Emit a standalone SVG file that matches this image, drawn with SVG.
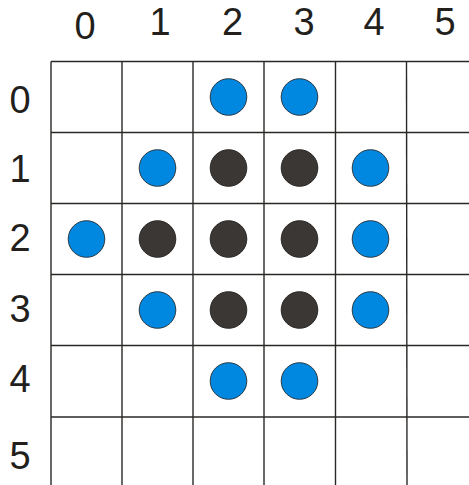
<svg xmlns="http://www.w3.org/2000/svg" width="469" height="485" viewBox="0 0 469 485">
<style>
.grid line{stroke:#2a2826;stroke-width:1.4;fill:none}
.lbl{font-family:"Liberation Sans",Arial,sans-serif;font-size:38px;fill:#231f1c;text-anchor:middle}
.blue{fill:#0088e0;stroke:#2b3a45;stroke-width:1}
.dark{fill:#3b3734;stroke:#2a2826;stroke-width:1}
</style>
<rect width="469" height="485" fill="#ffffff"/>
<g id="grid" class="grid">
<line x1="51" y1="61.5" x2="469" y2="61.5"/>
<line x1="51" y1="132.5" x2="469" y2="132.5"/>
<line x1="51" y1="203.5" x2="469" y2="203.5"/>
<line x1="51" y1="274.5" x2="469" y2="274.5"/>
<line x1="51" y1="345.5" x2="469" y2="345.5"/>
<line x1="51" y1="417" x2="469" y2="417"/>
<line x1="51" y1="61.5" x2="51" y2="485"/>
<line x1="122" y1="61.5" x2="122" y2="485"/>
<line x1="193" y1="61.5" x2="193" y2="485"/>
<line x1="264" y1="61.5" x2="264" y2="485"/>
<line x1="335.5" y1="61.5" x2="335.5" y2="485"/>
<line x1="406.5" y1="61.5" x2="407" y2="485"/>
</g>
<g id="col-labels">
<text class="lbl" x="85" y="38.5">0</text>
<text class="lbl" x="160" y="35">1</text>
<text class="lbl" x="232.5" y="35">2</text>
<text class="lbl" x="304" y="35">3</text>
<text class="lbl" x="374" y="35">4</text>
<text class="lbl" x="445" y="35">5</text>
</g>
<g id="row-labels">
<text class="lbl" x="20" y="112.5">0</text>
<text class="lbl" x="20" y="181.5">1</text>
<text class="lbl" x="20" y="250.5">2</text>
<text class="lbl" x="20" y="321.5">3</text>
<text class="lbl" x="20" y="391.5">4</text>
<text class="lbl" x="20" y="468.5">5</text>
</g>
<g id="b-0-2"><circle class="blue" cx="228.5" cy="97" r="18.3"/></g>
<g id="b-0-3"><circle class="blue" cx="299.5" cy="97" r="18.3"/></g>
<g id="b-1-1"><circle class="blue" cx="157.5" cy="168" r="18.3"/></g>
<g id="d-1-2"><circle class="dark" cx="228.5" cy="168" r="18.3"/></g>
<g id="d-1-3"><circle class="dark" cx="299.5" cy="168" r="18.3"/></g>
<g id="b-1-4"><circle class="blue" cx="370.5" cy="168" r="18.3"/></g>
<g id="b-2-0"><circle class="blue" cx="86.5" cy="239" r="18.3"/></g>
<g id="d-2-1"><circle class="dark" cx="157.5" cy="239" r="18.3"/></g>
<g id="d-2-2"><circle class="dark" cx="228.5" cy="239" r="18.3"/></g>
<g id="d-2-3"><circle class="dark" cx="299.5" cy="239" r="18.3"/></g>
<g id="b-2-4"><circle class="blue" cx="370.5" cy="239" r="18.3"/></g>
<g id="b-3-1"><circle class="blue" cx="157.5" cy="310" r="18.3"/></g>
<g id="d-3-2"><circle class="dark" cx="228.5" cy="310" r="18.3"/></g>
<g id="d-3-3"><circle class="dark" cx="299.5" cy="310" r="18.3"/></g>
<g id="b-3-4"><circle class="blue" cx="370.5" cy="310" r="18.3"/></g>
<g id="b-4-2"><circle class="blue" cx="228.5" cy="381" r="18.3"/></g>
<g id="b-4-3"><circle class="blue" cx="299.5" cy="381" r="18.3"/></g>
</svg>
